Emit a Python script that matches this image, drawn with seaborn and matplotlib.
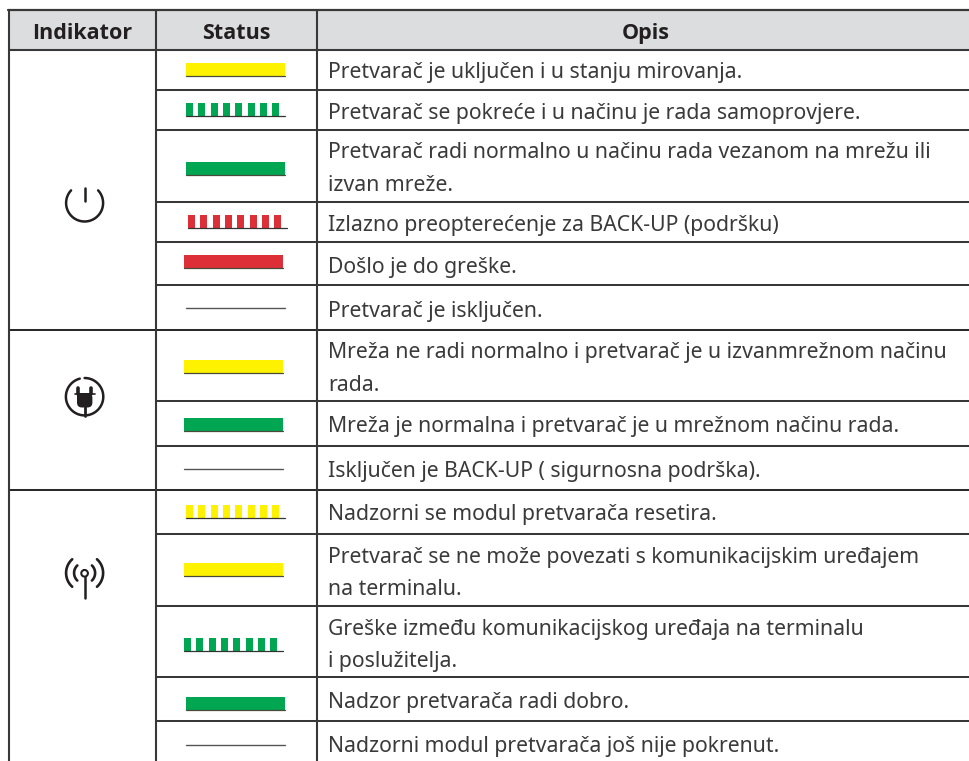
import numpy as np
import matplotlib
matplotlib.use("Agg")
import matplotlib.pyplot as plt
from matplotlib.patches import Rectangle, FancyBboxPatch
import seaborn as sns

sns.set_theme(style="white")
plt.rcParams['font.family'] = ['Noto Sans', 'DejaVu Sans']

# ---------- content ----------
headers = ["Indikator", "Status", "Opis"]
descriptions = [
    ["Pretvarač je uključen i u stanju mirovanja."],
    ["Pretvarač se pokreće i u načinu je rada samoprovjere."],
    ["Pretvarač radi normalno u načinu rada vezanom na mrežu ili", "izvan mreže."],
    ["Izlazno preopterećenje za BACK-UP (podršku)"],
    ["Došlo je do greške."],
    ["Pretvarač je isključen."],
    ["Mreža ne radi normalno i pretvarač je u izvanmrežnom načinu", "rada."],
    ["Mreža je normalna i pretvarač je u mrežnom načinu rada."],
    ["Isključen je BACK-UP ( sigurnosna podrška)."],
    ["Nadzorni se modul pretvarača resetira."],
    ["Pretvarač se ne može povezati s komunikacijskim uređajem", "na terminalu."],
    ["Greške između komunikacijskog uređaja na terminalu", "i poslužitelja."],
    ["Nadzor pretvarača radi dobro."],
    ["Nadzorni modul pretvarača još nije pokrenut."],
]
status_kind = ["solid", "blink", "solid", "blink", "solid", "off", "solid", "solid", "off",
               "blink", "solid", "blink", "solid", "off"]
status_color = ["yellow", "green", "green", "red", "red", None, "yellow", "green", None,
                "yellow", "yellow", "green", "green", None]

# ---------- layout (pixels) ----------
W, H = 969, 761
PALETTE = {"yellow": "#fff200", "green": "#00a651", "red": "#dc2f37"}
RULE = "#383838"
col_x = [9, 155.7, 316.7]
top, head_bottom = 10, 49.5
row_bottom = [90, 130, 201.5, 241.5, 285, 330, 401.3, 445.7, 489.7, 534, 605.7, 677, 721.3]
group_rules = [330, 489.7]
bar_left = [186, 186, 186, 188, 184, 186, 184, 184, 184, 186, 184, 184, 186, 186]
bar_top = [63, 103, 162, 215, 255, 307.7, 360, 418, 469, 505, 563, 638, 697, 745]
baselines = [[78.3], [119.5], [158.3, 190.7], [231], [272.7], [316.7], [358.3, 390.7], [431.7], [476.7],
             [520], [562.7, 595], [635, 666.7], [708.3], [751.7]]
dash_offsets = [0, 12, 25, 37, 49, 62, 74, 86]
BAR_W, BAR_H, DASH_W = 99, 12.5, 7

fig = plt.figure(figsize=(W / 100, H / 100), dpi=100)
ax = fig.add_axes([0, 0, 1, 1])


def line(xs, ys, color=RULE, lw=1.2, **kw):
    sns.lineplot(x=list(xs), y=list(ys), ax=ax, color=color, linewidth=lw,
                 sort=False, estimator=None, errorbar=None, legend=False, **kw)


# header band
ax.add_patch(Rectangle((col_x[0], top), W - col_x[0], head_bottom - top,
                       facecolor="#dcddde", edgecolor="none"))

# status marks
for kind, color, x0, y0 in zip(status_kind, status_color, bar_left, bar_top):
    if kind == "off":
        line([x0, x0 + BAR_W], [y0, y0], color="#555555", lw=1.0)
    elif kind == "solid":
        ax.add_patch(Rectangle((x0, y0), BAR_W, BAR_H, facecolor=PALETTE[color], edgecolor="none"))
        line([x0, x0 + BAR_W], [y0 + BAR_H, y0 + BAR_H], color="#4a4a3a", lw=0.9)
    else:
        for off in dash_offsets:
            ax.add_patch(Rectangle((x0 + off, y0), DASH_W, BAR_H, facecolor=PALETTE[color], edgecolor="none"))
        line([x0, x0 + BAR_W], [y0 + BAR_H, y0 + BAR_H], color="#333333", lw=0.9)

# rules
line([col_x[0] - 0.7, W], [top, top], lw=1.6)
line([col_x[0], W], [head_bottom, head_bottom], lw=1.5)
for y in row_bottom:
    x_from = col_x[0] if y in group_rules else col_x[1]
    line([x_from, W], [y, y], lw=1.45, color="#2a2a2a" if y in group_rules else RULE)
for x in col_x:
    line([x, x], [top, H], lw=1.5)

# text
for x, label in zip([82, 236, 646], headers):
    ax.text(x, 38.8, label, ha="center", va="baseline", fontsize=15.5,
            fontweight="bold", color="#231f20", family=["Open Sans", "DejaVu Sans"])
for lines, ys in zip(descriptions, baselines):
    for txt, y in zip(lines, ys):
        ax.text(328, y, txt, ha="left", va="baseline", fontsize=15.27, color="#3a3a3a")

# icons
INK = "#231f20"
cx = 84.6


def arc(c_x, c_y, r, a0, a1, lw=1.8):
    t = np.radians(np.linspace(a0, a1, 60))
    ax.plot(c_x + r * np.sin(t), c_y - r * np.cos(t), color=INK, lw=lw,
            solid_capstyle="round")


# power
arc(cx, 203, 18.5, 47, 313)
ax.plot([cx, cx], [187.5, 200.5], color=INK, lw=1.8, solid_capstyle="round")

# plug
arc(cx, 396.7, 18.7, 0, 345, lw=1.8)
ax.plot([78.3, 78.3], [388, 394], color=INK, lw=2.6, solid_capstyle="round")
ax.plot([91.0, 91.0], [388, 394], color=INK, lw=2.6, solid_capstyle="round")
ax.plot([75, 95], [393.5, 393.5], color=INK, lw=1.2)
ax.add_patch(FancyBboxPatch((77, 393), 15.4, 14.5, boxstyle="round,pad=0,rounding_size=5",
                            facecolor=INK, edgecolor="none"))
ax.add_patch(Rectangle((77, 393), 15.4, 6, facecolor=INK, edgecolor="none"))
ax.plot([cx, cx], [404, 416], color=INK, lw=2.0, solid_capstyle="round")

# antenna
for r, span in [(18.5, 48), (10.5, 46)]:
    arc(cx, 573, r, 90 - span, 90 + span, lw=1.9)
    arc(cx, 573, r, 270 - span, 270 + span, lw=1.9)
arc(cx, 573.3, 3.3, 0, 360, lw=1.5)
ax.plot([cx, cx], [577, 597.5], color=INK, lw=1.8, solid_capstyle="round")

ax.set_xlim(0, W)
ax.set_ylim(H, 0)
ax.set_xlabel("")
ax.set_ylabel("")
ax.axis("off")
fig.savefig("out.png", dpi=100, facecolor="white")
